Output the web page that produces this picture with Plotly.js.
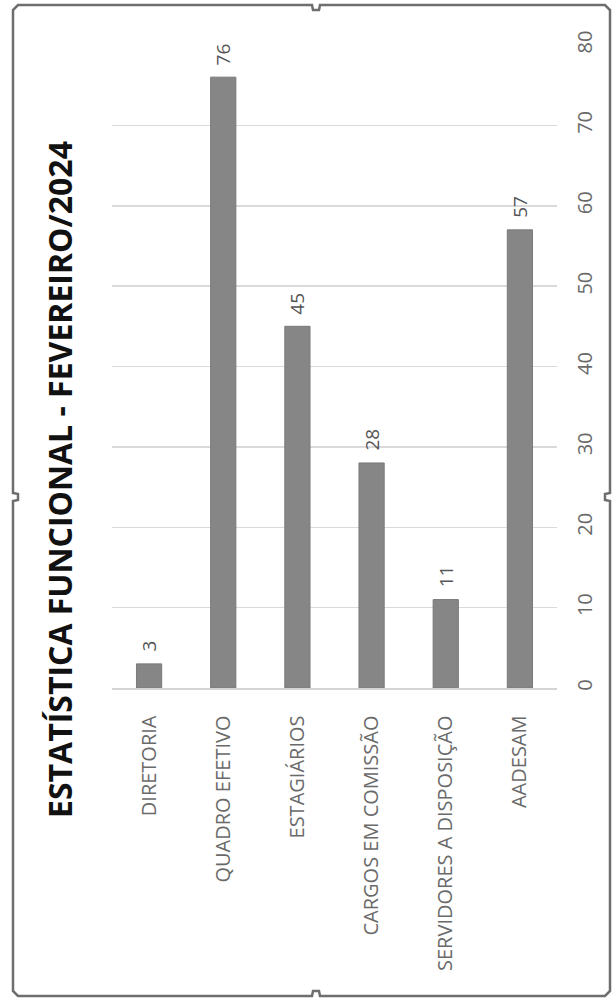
<!DOCTYPE html>
<html>
<head>
<meta charset="utf-8">
<script src="https://cdn.plot.ly/plotly-3.0.1.min.js"></script>
<style>html,body{margin:0;padding:0;background:#fff;}#chart{width:613px;height:1003px;}</style>
</head>
<body>
<div id="chart"></div>
<script>
const categories = ["DIRETORIA", "QUADRO EFETIVO", "ESTAGIÁRIOS", "CARGOS EM COMISSÃO", "SERVIDORES A DISPOSIÇÃO", "AADESAM"];
const values = [3, 76, 45, 28, 11, 57];
const tickValues = [0, 10, 20, 30, 40, 50, 60, 70, 80];
const chartTitle = "ESTATÍSTICA FUNCIONAL - FEVEREIRO/2024";

const W = 613, H = 1003;
const M = {l: 112, r: 56, t: 45, b: 315};
const pw = W - M.l - M.r, ph = H - M.t - M.b;
const px = x => (x - M.l) / pw;
const py = y => (H - M.b - y) / ph;

// frame path (pixel coords -> paper)
const fr = {l: 13, r: 610, t: 5, b: 996, c: 5, mx: 316, my: 497};
const pts = [
  [fr.l + fr.c, fr.t], [fr.mx - 4, fr.t], [fr.mx - 3, fr.t + 5], [fr.mx + 3, fr.t + 5], [fr.mx + 4, fr.t],
  [fr.r - fr.c, fr.t], [fr.r, fr.t + fr.c],
  [fr.r, fr.my - 4], [fr.r - 5, fr.my - 3], [fr.r - 5, fr.my + 3], [fr.r, fr.my + 4],
  [fr.r, fr.b - fr.c], [fr.r - fr.c, fr.b],
  [fr.mx + 4, fr.b], [fr.mx + 3, fr.b - 5], [fr.mx - 3, fr.b - 5], [fr.mx - 4, fr.b],
  [fr.l + fr.c, fr.b], [fr.l, fr.b - fr.c],
  [fr.l, fr.my + 4], [fr.l + 5, fr.my + 3], [fr.l + 5, fr.my - 3], [fr.l, fr.my - 4],
  [fr.l, fr.t + fr.c]
];
const framePath = "M " + pts.map(p => px(p[0]).toFixed(5) + "," + py(p[1]).toFixed(5)).join(" L ") + " Z";

const trace = {
  type: "bar",
  x: categories,
  y: values,
  marker: {color: "#868686", line: {color: "#7a7a7a", width: 1}},
  hoverinfo: "x+y"
};

const annotations = categories.map((c, i) => ({
  x: c, y: values[i], xref: "x", yref: "y",
  text: String(values[i]), showarrow: false, textangle: -90,
  yanchor: "bottom", xanchor: "center", yshift: 10,
  font: {family: "Open Sans, sans-serif", size: 19, color: "#555555"}
}));
annotations.push({
  xref: "paper", yref: "paper", x: px(60), y: py(480),
  xanchor: "center", yanchor: "middle", showarrow: false, textangle: -90,
  text: "<b>" + chartTitle + "</b>",
  font: {family: "Open Sans, sans-serif", size: 32, color: "#111111"}
});

const layout = {
  width: W, height: H,
  margin: M,
  paper_bgcolor: "#ffffff", plot_bgcolor: "#ffffff",
  showlegend: false,
  bargap: 0.66,
  xaxis: {
    type: "category",
    tickangle: -90,
    tickfont: {family: "Open Sans, sans-serif", size: 20, color: "#6a6a6a"},
    showline: true, linecolor: "#d4d4d4", linewidth: 1.5,
    showgrid: false, ticks: "", ticklabelstandoff: 18,
    fixedrange: true
  },
  yaxis: {
    side: "right",
    range: [0, 80],
    tickvals: tickValues,
    tickangle: -90,
    tickfont: {family: "Open Sans, sans-serif", size: 20, color: "#6a6a6a"},
    showgrid: true, gridcolor: "#dadada", gridwidth: 1.5,
    zeroline: false, showline: false, ticks: "", ticklabelstandoff: 14,
    fixedrange: true
  },
  annotations: annotations,
  shapes: [{
    type: "path", xref: "paper", yref: "paper", path: framePath,
    line: {color: "#6e6e6e", width: 2.5}, fillcolor: "rgba(0,0,0,0)", layer: "above"
  }]
};

Plotly.newPlot("chart", [trace], layout, {displayModeBar: false, staticPlot: true});
</script>
</body>
</html>
